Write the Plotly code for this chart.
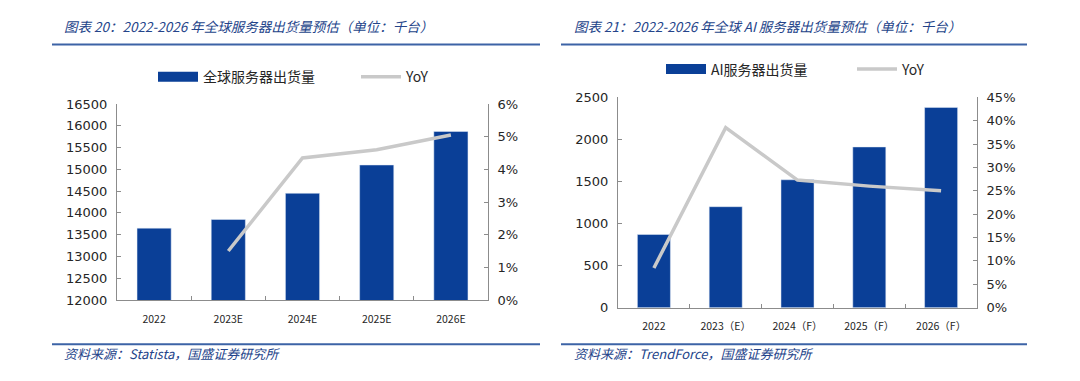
import plotly.graph_objects as go

W, H = 1080, 381

# ---------------- data ----------------
cat1 = ["2022", "2023E", "2024E", "2025E", "2026E"]
ship1 = [13650, 13850, 14450, 15100, 15870]
yoy1 = [None, 0.015, 0.0435, 0.046, 0.0505]

cat2 = ["2022", "2023（E）", "2024（F）", "2025（F）", "2026（F）"]
ship2 = [870, 1200, 1520, 1910, 2380]
yoy2 = [0.085, 0.385, 0.273, 0.26, 0.25]

title1 = "图表 20：2022-2026 年全球服务器出货量预估（单位：千台）"
title2 = "图表 21：2022-2026 年全球 AI 服务器出货量预估（单位：千台）"
src1 = "资料来源：Statista，国盛证券研究所"
src2 = "资料来源：TrendForce，国盛证券研究所"
name_bar1 = "全球服务器出货量"
name_bar2 = "AI服务器出货量"
name_line = "YoY"

# ---------------- style ----------------
BAR = "#0A3F97"
LINE = "#C9C9C9"
AX = "#8C8C8C"
TXT = "#262626"
BLUE_T = "#24448A"
BLUE_L = "#3C63A6"
CJK = "Noto Sans CJK SC"
NUM = "DejaVu Sans"


def fx(x):
    return x / W


def fy(y):
    return 1 - y / H


fig = go.Figure()

# bars (legend shown through a wide legend key entry below)
fig.add_trace(go.Bar(x=cat1, y=ship1, name=name_bar1, marker_color=BAR, width=0.46,
                     xaxis="x", yaxis="y", showlegend=False))
fig.add_trace(go.Scatter(x=[None], y=[None], name=name_bar1, mode="lines",
                         line=dict(color=BAR, width=12), xaxis="x", yaxis="y",
                         legend="legend"))
fig.add_trace(go.Scatter(x=cat1, y=yoy1, name=name_line, mode="lines",
                         line=dict(color=LINE, width=3.5), xaxis="x", yaxis="y2",
                         legend="legend"))

fig.add_trace(go.Bar(x=cat2, y=ship2, name=name_bar2, marker_color=BAR, width=0.46,
                     xaxis="x2", yaxis="y3", showlegend=False))
fig.add_trace(go.Scatter(x=[None], y=[None], name=name_bar2, mode="lines",
                         line=dict(color=BAR, width=12), xaxis="x2", yaxis="y3",
                         legend="legend2"))
fig.add_trace(go.Scatter(x=cat2, y=yoy2, name=name_line, mode="lines",
                         line=dict(color=LINE, width=3.5), xaxis="x2", yaxis="y4",
                         legend="legend2"))

xcommon = dict(showline=True, linecolor=AX, linewidth=1, ticks="inside", tickson="boundaries",
               ticklen=4, tickcolor=AX, showgrid=False, zeroline=False, ticklabelstandoff=9,
               tickfont=dict(family=CJK, size=10.5, color=TXT), fixedrange=True)
ycommon = dict(showline=True, linecolor=AX, linewidth=1, ticks="inside", ticklen=4,
               tickcolor=AX, showgrid=False, zeroline=False, ticklabelstandoff=6,
               tickfont=dict(family=NUM, size=13, color=TXT), fixedrange=True)

fig.update_layout(
    width=W, height=H, margin=dict(l=0, r=0, t=0, b=0),
    paper_bgcolor="white", plot_bgcolor="white", bargap=0.5, hovermode=False,
    xaxis=dict(domain=[fx(117), fx(488)], anchor="y", **xcommon),
    yaxis=dict(domain=[fy(305), fy(101)], range=[12000, 16500], dtick=500, tickformat="d",
               **ycommon),
    yaxis2=dict(overlaying="y", side="right", range=[0, 0.06], dtick=0.01, tickformat=".0%",
                anchor="x", **ycommon),
    xaxis2=dict(domain=[fx(618), fx(977)], anchor="y3", **xcommon),
    yaxis3=dict(domain=[fy(313), fy(94)], range=[0, 2500], dtick=500, tickformat="d",
                anchor="x2", **ycommon),
    yaxis4=dict(overlaying="y3", side="right", range=[0, 0.45], dtick=0.05, tickformat=".0%",
                anchor="x2", **ycommon),
    legend=dict(orientation="h", x=fx(153), y=fy(73), xanchor="left", yanchor="middle",
                font=dict(family=CJK, size=14, color=TXT), bgcolor="rgba(0,0,0,0)",
                entrywidth=148, itemwidth=40, tracegroupgap=0),
    legend2=dict(orientation="h", x=fx(661), y=fy(65), xanchor="left", yanchor="middle",
                 font=dict(family=CJK, size=14, color=TXT), bgcolor="rgba(0,0,0,0)",
                 entrywidth=136, itemwidth=40, tracegroupgap=0),
)

# header/footer rules
for x0, x1 in [(52, 540), (561, 1027)]:
    for y in (39, 351):
        fig.add_shape(type="line", xref="paper", yref="paper", x0=fx(x0), x1=fx(x1),
                      y0=fy(y), y1=fy(y), line=dict(color=BLUE_L, width=2))

for txt, x, y, sz in [(title1, 62, 20, 13.5), (title2, 572, 20, 13.5),
                      (src1, 62, 361, 13), (src2, 572, 361, 13)]:
    fig.add_annotation(text=txt, xref="paper", yref="paper", x=fx(x), y=fy(y),
                       xanchor="left", yanchor="middle", showarrow=False,
                       font=dict(family=CJK, size=sz, color=BLUE_T, style="italic"))

fig.write_html("out.html", config={"displayModeBar": False},
               post_script="document.body.style.margin='0';document.body.style.overflow='hidden';")
